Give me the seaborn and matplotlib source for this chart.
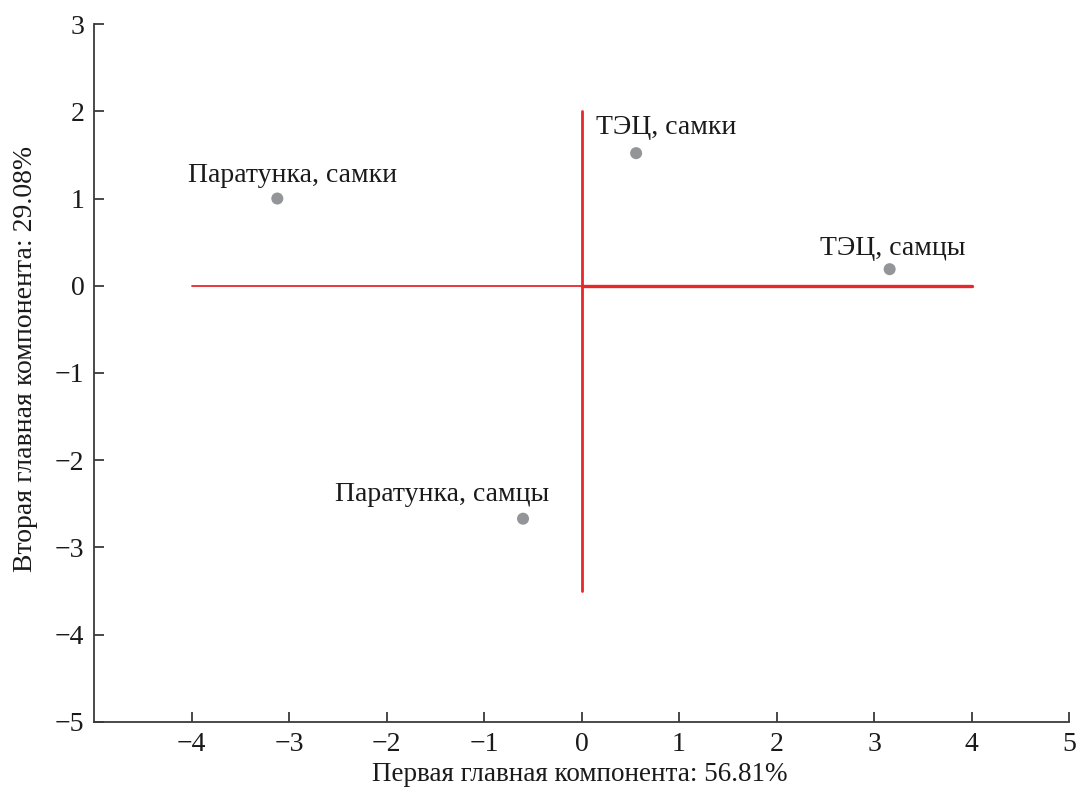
import numpy as np
import pandas as pd
import matplotlib
matplotlib.use('Agg')
import matplotlib.pyplot as plt
import seaborn as sns

## Data
labels  = ['Паратунка, самки', 'ТЭЦ, самки', 'ТЭЦ, самцы', 'Паратунка, самцы']
pc1     = [-3.12, 0.56, 3.16, -0.60]
pc2     = [1.00, 1.52, 0.19, -2.67]
offsets = [(11, 12), (22, 14), (2, 10), (-58, 13)]

hline_left_x  = [-4, 0]
hline_right_x = [0, 4]
hline_y       = [0, 0]
vline_x       = [0, 0]
vline_y       = [-3.5, 2]

xticks = [-4, -3, -2, -1, 0, 1, 2, 3, 4, 5]
yticks = [-5, -4, -3, -2, -1, 0, 1, 2, 3]

xlabel = 'Первая главная компонента: 56.81%'
ylabel = 'Вторая главная компонента: 29.08%'

## Style
sns.set_style('ticks')
plt.rcParams['font.family'] = ['Liberation Serif', 'DejaVu Serif']
plt.rcParams['font.size'] = 20
red  = '#e8262c'
gray = '#939598'
dark = '#3a3a3a'
txt  = '#1a1a1a'

df = pd.DataFrame({'pc1': pc1, 'pc2': pc2, 'label': labels})

fig = plt.figure(figsize=(10.78, 7.88), dpi=100)
ax = fig.add_axes([0.0872, 0.0838, 0.9045, 0.8857])

## Crosshair
ax.plot(hline_left_x, hline_y, color=red, lw=1.3, zorder=1)
ax.plot(hline_right_x, hline_y, color=red, lw=2.4, zorder=1)
ax.plot(vline_x, vline_y, color=red, lw=2.0, zorder=1)

## Points
sns.scatterplot(data=df, x='pc1', y='pc2', color=gray, s=75, edgecolor='none', ax=ax, zorder=3)
for i in range(len(labels)):
    ax.annotate(labels[i], (pc1[i], pc2[i]), xytext=offsets[i], textcoords='offset points',
                ha='center', va='baseline', fontsize=20, color=txt)

## Axes customization
ax.set_xlim(-5, 5)
ax.set_ylim(-5, 3)
ax.set_xticks(xticks)
ax.set_yticks(yticks)
ax.set_xticklabels(['\u2212'+str(-t) if t < 0 else str(t) for t in xticks])
ax.set_yticklabels(['\u2212'+str(-t) if t < 0 else str(t) for t in yticks])
ax.tick_params(direction='in', length=7, width=1.3, color=dark, labelcolor=txt, labelsize=20, pad=7)
for side in ['top', 'right']:
    ax.spines[side].set_visible(False)
for side in ['left', 'bottom']:
    ax.spines[side].set_color(dark)
    ax.spines[side].set_linewidth(1.3)
ax.set_xlabel(xlabel, fontsize=19.5, color=txt)
ax.set_ylabel(ylabel, fontsize=20, color=txt)
ax.xaxis.set_label_coords(0.498, -0.057)
ax.yaxis.set_label_coords(-0.057, 0.52)

fig.savefig('out.png', dpi=100)
